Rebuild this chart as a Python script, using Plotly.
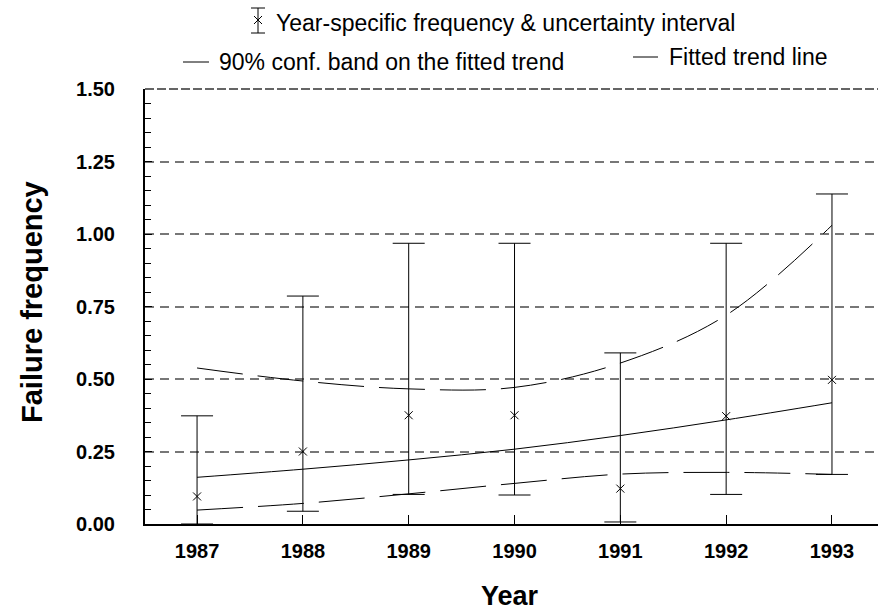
import plotly.graph_objects as go

years = [1987, 1988, 1989, 1990, 1991, 1992, 1993]
freq = [0.095, 0.25, 0.375, 0.375, 0.122, 0.372, 0.497]
upper = [0.373, 0.786, 0.968, 0.968, 0.590, 0.968, 1.138]
lower = [0.0, 0.044, 0.102, 0.100, 0.007, 0.102, 0.171]
trend = [0.161, 0.189, 0.221, 0.258, 0.305, 0.359, 0.418]
band_lo = [0.048, 0.071, 0.104, 0.140, 0.172, 0.178, 0.171]
band_hi = [0.538, 0.493, 0.466, 0.471, 0.555, 0.720, 1.030]
ytick_vals = [0, 0.25, 0.5, 0.75, 1.0, 1.25, 1.5]
ytick_text = ["0.00", "0.25", "0.50", "0.75", "1.00", "1.25", "1.50"]

W, H = 878, 611
L, T, B = 145, 89, 87
PW, PH = W - L, H - T - B
FONT = "Liberation Sans, Arial, sans-serif"


def px(x):
    return (x - L) / PW


def py(y):
    return (H - B - y) / PH


fig = go.Figure()
dash_long = "46px,15px"
fig.add_trace(go.Scatter(x=years, y=band_hi, mode="lines", line=dict(color="black", width=1, dash=dash_long, shape="spline"), showlegend=False))
fig.add_trace(go.Scatter(x=years, y=band_lo, mode="lines", line=dict(color="black", width=1, dash=dash_long, shape="spline"), showlegend=False))
fig.add_trace(go.Scatter(x=years, y=trend, mode="lines", line=dict(color="black", width=1, shape="spline"), showlegend=False))
fig.add_trace(go.Scatter(
    x=years, y=freq, mode="markers",
    marker=dict(symbol="x-thin-open", size=8, color="black", line=dict(color="black", width=1)),
    error_y=dict(type="data", symmetric=False,
                 array=[u - f for u, f in zip(upper, freq)],
                 arrayminus=[f - l for f, l in zip(freq, lower)],
                 color="black", thickness=1, width=16),
    showlegend=False))

shapes = []
ln = dict(color="black", width=1)
# top frame line (dark dashed)
shapes.append(dict(type="line", xref="paper", yref="paper", x0=0, x1=1, y0=1, y1=1,
                   line=dict(color="#333333", width=1.5, dash="9px,3px")))
# legend symbols
shapes.append(dict(type="line", xref="paper", yref="paper", x0=px(258), x1=px(258), y0=py(8), y1=py(33), line=ln))
shapes.append(dict(type="line", xref="paper", yref="paper", x0=px(251), x1=px(265), y0=py(8), y1=py(8), line=ln))
shapes.append(dict(type="line", xref="paper", yref="paper", x0=px(251), x1=px(265), y0=py(33), y1=py(33), line=ln))
shapes.append(dict(type="line", xref="paper", yref="paper", x0=px(254), x1=px(262), y0=py(16), y1=py(24), line=ln))
shapes.append(dict(type="line", xref="paper", yref="paper", x0=px(254), x1=px(262), y0=py(24), y1=py(16), line=ln))
shapes.append(dict(type="line", xref="paper", yref="paper", x0=px(183), x1=px(209), y0=py(62), y1=py(62), line=ln))
shapes.append(dict(type="line", xref="paper", yref="paper", x0=px(633), x1=px(658), y0=py(57), y1=py(57), line=ln))

LEG = 23
annotations = [
    dict(text="Year-specific frequency & uncertainty interval", x=px(274), y=py(23), xref="paper", yref="paper",
         xanchor="left", yanchor="middle", showarrow=False, font=dict(family=FONT, size=LEG, color="black")),
    dict(text="90% conf. band on the fitted trend", x=px(217), y=py(62), xref="paper", yref="paper",
         xanchor="left", yanchor="middle", showarrow=False, font=dict(family=FONT, size=LEG, color="black")),
    dict(text="Fitted trend line", x=px(667), y=py(57), xref="paper", yref="paper",
         xanchor="left", yanchor="middle", showarrow=False, font=dict(family=FONT, size=LEG, color="black")),
    dict(text="<b>Year</b>", x=px(510), y=py(596), xref="paper", yref="paper",
         xanchor="center", yanchor="middle", showarrow=False, font=dict(family=FONT, size=27, color="black")),
    dict(text="<b>Failure frequency</b>", x=px(32), y=py(302), xref="paper", yref="paper", textangle=-90,
         xanchor="center", yanchor="middle", showarrow=False, font=dict(family=FONT, size=29, color="black")),
]

TICKF = 20
fig.update_layout(
    width=W, height=H,
    margin=dict(l=L, r=0, t=T, b=B, pad=0),
    plot_bgcolor="white", paper_bgcolor="white",
    showlegend=False,
    shapes=shapes, annotations=annotations,
    font=dict(family=FONT, color="black"),
    xaxis=dict(range=[1986.508, 1993.435], tickvals=years, ticktext=[f"<b>{y}</b>" for y in years],
               ticks="inside", ticklen=9, tickcolor="black", tickwidth=1,
               showline=True, linecolor="black", linewidth=2, showgrid=False, zeroline=False,
               tickfont=dict(family=FONT, size=TICKF, color="black"), ticklabelstandoff=8),
    yaxis=dict(range=[0, 1.5], tickvals=ytick_vals, ticktext=[f"<b>{t}</b>" for t in ytick_text],
               ticks="inside", ticklen=7, tickcolor="black", tickwidth=1,
               minor=dict(dtick=0.05, ticks="inside", ticklen=6, tickcolor="black", showgrid=False),
               showline=True, linecolor="black", linewidth=2, zeroline=False,
               showgrid=True, gridcolor="#777777", gridwidth=1.5, griddash="9px,6px",
               tickfont=dict(family=FONT, size=TICKF, color="black"), ticklabelstandoff=24),
)

fig.write_html("out.html")
